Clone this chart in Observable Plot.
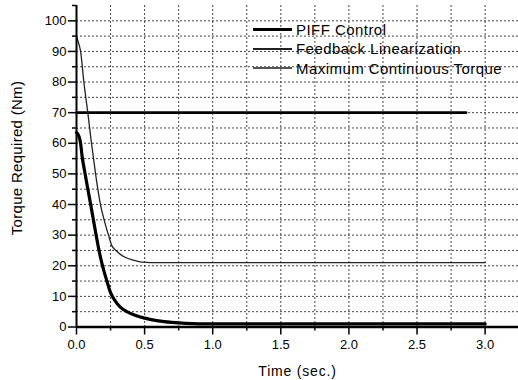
<!DOCTYPE html>
<html>
<head>
<meta charset="utf-8">
<script src="https://cdn.jsdelivr.net/npm/d3@7"></script>
<script src="https://cdn.jsdelivr.net/npm/@observablehq/plot@0.6"></script>
<style>
  html, body { margin: 0; padding: 0; background: white; }
  #wrap { position: relative; width: 518px; height: 380px; font-family: "Liberation Sans", Arial, sans-serif; }
  #legend { position: absolute; left: 253px; top: 20px; font-size: 15px; letter-spacing: 0.45px; color: #000; }
  #legend .row { display: flex; align-items: center; height: 19.3px; }
  #legend .sw { width: 39px; margin-right: 4px; }
  #ytitle { position: absolute; left: 16px; top: 158px; transform: translate(-50%, -50%) rotate(-90deg);
            white-space: nowrap; font-size: 15px; letter-spacing: 0.3px; color: #000; line-height: 1; }
</style>
</head>
<body>
<div id="wrap"><div id="legend"></div><div id="ytitle"></div></div>
<script>
// ---- data ----
const seriesNames = ["PIFF Control", "Feedback Linearization", "Maximum Continuous Torque"];

const piffTime   = [0, 0.01, 0.02, 0.03, 0.042, 0.06, 0.08, 0.1, 0.12, 0.14, 0.16, 0.18, 0.2, 0.22, 0.25, 0.28, 0.32, 0.37, 0.43, 0.5, 0.6, 0.7, 0.8, 1.0, 1.5, 2.0, 2.5, 3.0];
const piffTorque = [63.5, 63, 62, 60, 55.5, 50.8, 45.8, 41, 36, 31, 26.2, 22, 18.5, 15.5, 11.2, 8.8, 6.6, 5, 3.8, 2.9, 2.0, 1.5, 1.2, 1.0, 1.0, 1.0, 1.0, 1.0];

const flTime   = [0, 0.01, 0.02, 0.03, 0.054, 0.083, 0.11, 0.14, 0.164, 0.176, 0.2, 0.235, 0.26, 0.29, 0.32, 0.36, 0.41, 0.48, 0.6, 1.0, 1.5, 2.0, 2.5, 3.0];
const flTorque = [95, 93.5, 92, 90, 80, 70, 60, 50, 43, 40, 35.5, 30, 26.5, 25, 23.8, 22.7, 21.9, 21.2, 21, 21, 21, 21, 21, 21];

const maxTime   = [0, 2.86];
const maxTorque = [70, 70];

const xMajorTicks = [0, 0.5, 1.0, 1.5, 2.0, 2.5, 3.0];
const xMinorTicks = [0.25, 0.75, 1.25, 1.75, 2.25, 2.75];
const xGridLines  = [0.25, 0.5, 0.75, 1.0, 1.25, 1.5, 1.75, 2.0, 2.25, 2.5, 2.75, 3.0];
const yMajorTicks = [0, 10, 20, 30, 40, 50, 60, 70, 80, 90, 100];
const yMinorTicks = [5, 15, 25, 35, 45, 55, 65, 75, 85, 95, 105];
const yGridLines  = [5, 10, 15, 20, 25, 30, 35, 40, 45, 50, 55, 60, 65, 70, 75, 80, 85, 90, 95, 100];

const xTitle = "Time (sec.)";
const yTitle = "Torque Required (Nm)";

// ---- build tables ----
const piff = piffTime.map((t, i) => ({t, v: piffTorque[i]}));
const fl   = flTime.map((t, i) => ({t, v: flTorque[i]}));
const mx   = maxTime.map((t, i) => ({t, v: maxTorque[i]}));

const font = "'Liberation Sans', Arial, sans-serif";

const chart = Plot.plot({
  width: 518,
  height: 380,
  marginLeft: 76,
  marginRight: 0,
  marginTop: 5,
  marginBottom: 53.5,
  x: {domain: [0, 3.245]},
  y: {domain: [0, 105]},
  style: {fontFamily: font, fontSize: "13px", background: "white", color: "black", overflow: "visible"},
  marks: [
    Plot.ruleY(yGridLines, {y: d => d, stroke: "#444", strokeWidth: 1, strokeOpacity: 1, strokeDasharray: "2 2"}),
    Plot.ruleX(xGridLines, {x: d => d, stroke: "#444", strokeWidth: 1, strokeOpacity: 1, strokeDasharray: "2 2"}),
    Plot.axisY({ticks: yMajorTicks, tickSize: 8, tickPadding: 2, strokeWidth: 1.5, label: null, fontSize: 13}),
    Plot.axisY({ticks: yMinorTicks, tickSize: 4, strokeWidth: 1.5, tickFormat: () => "", label: null}),
    Plot.axisX({ticks: xMajorTicks, tickSize: 8, tickPadding: 5, strokeWidth: 1.5, tickFormat: d3.format(".1f"), label: null, fontSize: 13}),
    Plot.axisX({ticks: xMinorTicks, tickSize: 4, strokeWidth: 1.5, tickFormat: () => "", label: null}),
    Plot.line(mx, {x: "t", y: "v", stroke: "#000", strokeWidth: 2.6}),
    Plot.line(fl, {x: "t", y: "v", stroke: "#222", strokeWidth: 1.3, curve: "monotone-x"}),
    Plot.line(piff, {x: "t", y: "v", stroke: "#000", strokeWidth: 3.2, curve: "monotone-x"}),
    Plot.ruleX([0], {stroke: "#000", strokeWidth: 2}),
    Plot.ruleY([0], {stroke: "#000", strokeWidth: 2.5}),
    Plot.text([xTitle], {frameAnchor: "bottom", dy: 45, textAnchor: "middle", lineAnchor: "middle", fontSize: 14, text: d => d, fill: "#000"})
  ]
});

d3.select(chart).selectAll("text").filter(function() { return this.textContent === xTitle; }).style("letter-spacing", "0.8px");

const wrap = document.getElementById("wrap");
wrap.insertBefore(chart, wrap.firstChild);
document.getElementById("ytitle").textContent = yTitle;

// ---- legend ----
const swatches = [
  {h: 3, c: "#000"},
  {h: 1.5, c: "#222"},
  {h: 2, c: "#555"}
];
const legend = d3.select("#legend");
seriesNames.forEach((name, i) => {
  const row = legend.append("div").attr("class", "row");
  row.append("div").attr("class", "sw").style("height", swatches[i].h + "px").style("background", swatches[i].c);
  row.append("span").text(name);
});
</script>
</body>
</html>
